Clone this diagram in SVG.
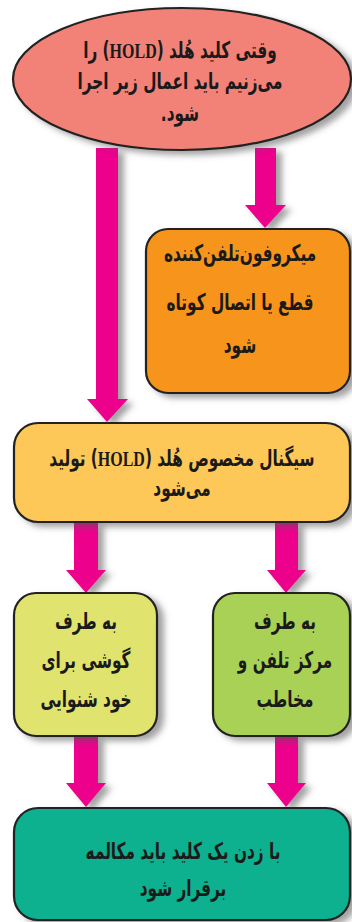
<svg xmlns="http://www.w3.org/2000/svg" width="352" height="922" viewBox="0 0 352 922">
<defs>
<filter id="sh" x="-20%" y="-20%" width="150%" height="150%">
<feDropShadow dx="6" dy="4" stdDeviation="3" flood-color="#555" flood-opacity="0.55"/>
</filter>
</defs>
<style>
.box{stroke:#222;stroke-width:2.2;filter:url(#sh)}
.arr{fill:#EC008C;filter:url(#sh)}
text{font-family:"DejaVu Sans Condensed","DejaVu Sans",sans-serif;font-stretch:condensed;font-weight:bold;font-size:17px;fill:#1a1a1a;text-anchor:middle;direction:rtl}
.lat{font-family:"Liberation Serif",serif;font-stretch:normal;font-size:16px}
</style>
<rect width="352" height="922" fill="#ffffff"/>
<g id="connectors">
<polygon class="arr" points="96,148 118,148 118,399 128,399 107,422 87,399 96,399"/>
<polygon class="arr" points="255,148 276,148 276,205 286,205 265,228 245,205 255,205"/>
<polygon class="arr" points="74,522 98,522 98,570 106,570 86,593 66,570 74,570"/>
<polygon class="arr" points="275,522 298,522 298,570 306,570 286,593 267,570 275,570"/>
<polygon class="arr" points="74,736 98,736 98,783 106,783 86,807 66,783 74,783"/>
<polygon class="arr" points="275,736 298,736 298,783 306,783 286,807 267,783 275,783"/>
</g>
<g id="n1">
<ellipse class="box" cx="182" cy="79" rx="169" ry="71" fill="#F28277"/>
<text transform="translate(180,58) scale(1,1.35)">وقتی کلید هُلد (<tspan class="lat">HOLD</tspan>) را</text>
<text transform="translate(180,89) scale(1,1.35)">می&#x200C;زنیم باید اعمال زیر اجرا</text>
<text transform="translate(180,121) scale(1,1.35)">شود.</text>
</g>
<g id="n2">
<rect class="box" x="146" y="229" width="204" height="164" rx="22" fill="#F7941D"/>
<text transform="translate(240,261) scale(1,1.35)">میکروفون&#x200C;تلفن&#x200C;کننده</text>
<text transform="translate(240,310) scale(1,1.35)">قطع یا اتصال کوتاه</text>
<text transform="translate(240,353) scale(1,1.35)">شود</text>
</g>
<g id="n3">
<rect class="box" x="14" y="423" width="336" height="99" rx="24" fill="#FDC858"/>
<text transform="translate(182,466) scale(1,1.35)">سیگنال مخصوص هُلد (<tspan class="lat">HOLD</tspan>) تولید</text>
<text transform="translate(182,496) scale(1,1.35)">می&#x200C;شود</text>
</g>
<g id="n4">
<rect class="box" x="14" y="593" width="143" height="143" rx="22" fill="#E0E46E"/>
<text transform="translate(86,629) scale(1,1.35)">به طرف</text>
<text transform="translate(86,668) scale(1,1.35)">گوشی برای</text>
<text transform="translate(86,707) scale(1,1.35)">خود شنوایی</text>
</g>
<g id="n5">
<rect class="box" x="213" y="593" width="137" height="143" rx="22" fill="#A8D155"/>
<text transform="translate(285,629) scale(1,1.35)">به طرف</text>
<text transform="translate(285,668) scale(1,1.35)">مرکز تلفن و</text>
<text transform="translate(285,707) scale(1,1.35)">مخاطب</text>
</g>
<g id="n6">
<rect class="box" x="14" y="808" width="336" height="112" rx="24" fill="#0BB08F"/>
<text transform="translate(183,859) scale(1,1.35)">با زدن یک کلید باید مکالمه</text>
<text transform="translate(183,896) scale(1,1.35)">برقرار شود</text>
</g>
</svg>
